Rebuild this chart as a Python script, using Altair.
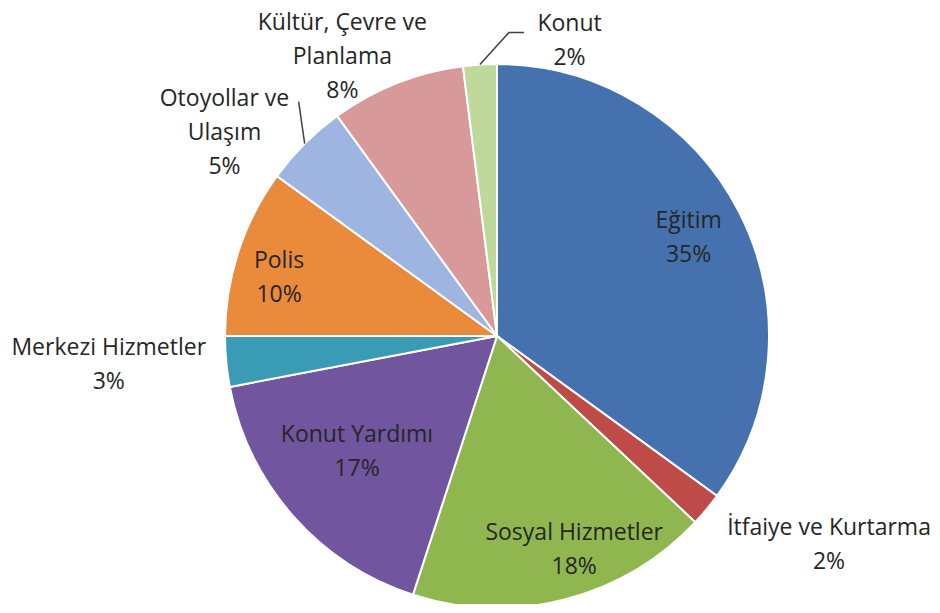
import altair as alt
import pandas as pd
import numpy as np

# ---- data ----
categories = ["Eğitim", "İtfaiye ve Kurtarma", "Sosyal Hizmetler", "Konut Yardımı",
              "Merkezi Hizmetler", "Polis", "Otoyollar ve Ulaşım",
              "Kültür, Çevre ve Planlama", "Konut"]
values = [35, 2, 18, 17, 3, 10, 5, 8, 2]
label_names = ["Eğitim", "İtfaiye ve Kurtarma", "Sosyal Hizmetler", "Konut Yardımı",
               "Merkezi Hizmetler", "Polis", "Otoyollar ve\nUlaşım",
               "Kültür, Çevre ve\nPlanlama", "Konut"]
colors = ["#4572AE", "#BE4B48", "#90B650", "#71559E", "#3A9CB4",
          "#EA8A3B", "#9DB5E0", "#D8999A", "#BFD99A"]

# ---- styling / layout ----
W, H = 868, 536
PAD_L, PAD_T = 55, 60
R = 272
FONT = "Open Sans"
FS = 23
LH = 34
TEXT_COLOR = "#262626"
# per label: radius from centre, dx, dy (dy is for the centre of the text block)
label_style = {
    "Eğitim": (215, 0, 0),
    "İtfaiye ve Kurtarma": (392, 30, -41),
    "Sosyal Hizmetler": (226, 21, -5),
    "Konut Yardımı": (180, -5, -3),
    "Merkezi Hizmetler": (389, -1, -8),
    "Polis": (226, -3, 12),
    "Otoyollar ve Ulaşım": (343, -30, 40),
    "Kültür, Çevre ve Planlama": (325, -35, 23),
    "Konut": (310, 92, 14),
}
# leader lines: offsets from the slice edge point
leaders = {
    "Otoyollar ve Ulaşım": [(0, 0), (-6, -42)],
    "Konut": [(0, 0), (29, -32), (44, -32)],
}

labels = [n + "\n" + f"{v}%" for n, v in zip(label_names, values)]
df = pd.DataFrame({
    "cat": categories,
    "value": values,
    "ord": list(range(len(categories))),
    "label": labels,
})

pie = alt.Chart(df).mark_arc(outerRadius=R, stroke="white", strokeWidth=2).encode(
    theta=alt.Theta("value:Q", stack=True),
    color=alt.Color("cat:N", scale=alt.Scale(domain=categories, range=colors), legend=None),
    order=alt.Order("ord:Q"),
)

base_text = alt.Chart(df).transform_window(
    cum="sum(value)", sort=[alt.SortField("ord")]
).transform_joinaggregate(
    total="sum(value)"
).transform_calculate(
    mid="(datum.cum - datum.value / 2) / datum.total * 2 * PI"
)

layers = [pie]
for cat, lab in zip(categories, labels):
    r, dx, dy = label_style[cat]
    nlines = lab.count("\n") + 1
    t = base_text.transform_filter(alt.datum.cat == cat).mark_text(
        radius=r, dx=dx, dy=dy - (nlines - 1) * LH / 2, font=FONT, fontSize=FS,
        lineHeight=LH, lineBreak="\n", align="center", baseline="middle",
        color=TEXT_COLOR,
    ).encode(
        theta=alt.Theta("mid:Q", scale=None),
        text="label:N",
    )
    layers.append(t)

# leader lines computed from the slice mid-angles
fr = np.array(values, dtype=float) / sum(values)
cum = np.cumsum(fr)
mids = (cum - fr / 2) * 2 * np.pi
rows = []
for cat, offs in leaders.items():
    i = categories.index(cat)
    sx = W / 2 + R * np.sin(mids[i])
    sy = H / 2 - R * np.cos(mids[i])
    for k, (ox, oy) in enumerate(offs):
        rows.append({"cat": cat, "k": k, "px": sx + ox, "py": sy + oy})
ldf = pd.DataFrame(rows)
lines = alt.Chart(ldf).mark_line(color="#404040", strokeWidth=1.5).encode(
    x=alt.X("px:Q", scale=None),
    y=alt.Y("py:Q", scale=None),
    detail="cat:N",
    order="k:Q",
)
layers.append(lines)

chart = alt.layer(*layers).properties(
    width=W, height=H,
    padding={"left": PAD_L, "top": PAD_T, "right": 0, "bottom": 0},
    autosize=alt.AutoSizeParams(type="none"),
    background="white",
).configure_view(stroke=None)

chart.save("out.html", embed_options={"renderer": "svg", "actions": False})
